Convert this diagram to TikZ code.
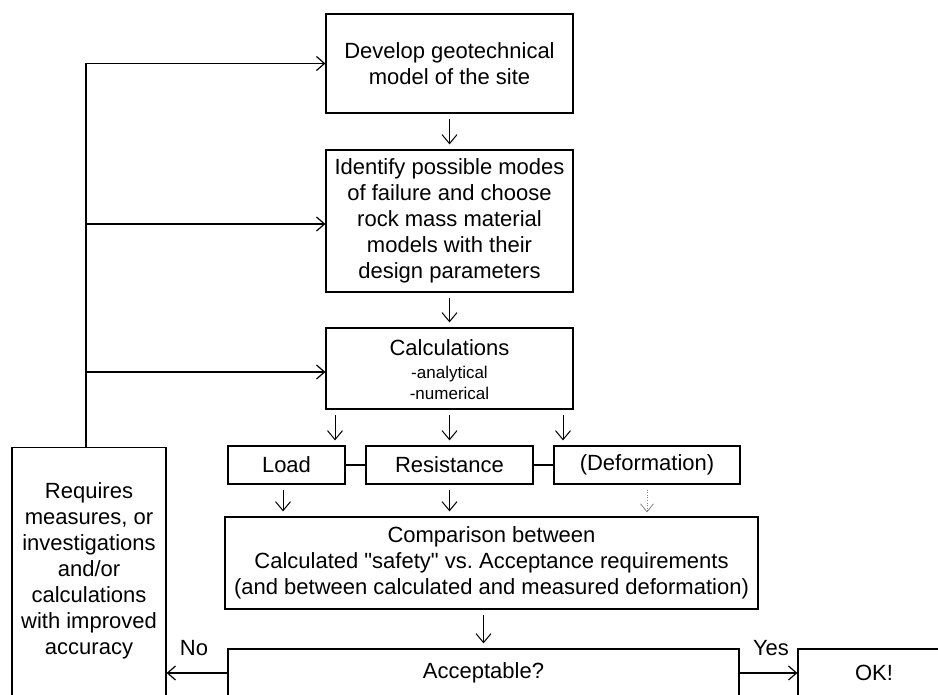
\documentclass[tikz,border=0pt]{standalone}
\usepackage{fontspec}
\setmainfont{Liberation Sans}[Ligatures=TeXOff]
\usetikzlibrary{arrows.meta}
\frenchspacing
\tikzset{
  big/.style={font=\fontsize{22}{26}\selectfont},
  small/.style={font=\fontsize{17}{21}\selectfont},
  box/.style={draw, line width=1.2pt, inner sep=0pt, align=center, big},
  varrow/.style={line width=1pt, -{Straight Barb[length=9pt,width=15pt]}, shorten <=5pt, shorten >=5pt},
  harrow/.style={line width=1.2pt, -{Straight Barb[length=8pt,width=14pt]}},
  darrow/.style={line width=0.6pt, gray, dotted, -{Straight Barb[length=8pt,width=13pt,line width=0.8pt]}, shorten <=5pt, shorten >=4pt},
  link/.style={line width=1.2pt},
  lbl/.style={big, inner sep=0pt}
}
\begin{document}
\begin{tikzpicture}[x=1pt,y=-1pt]
\useasboundingbox (0,0) rectangle (938,695);
\clip (0,0) rectangle (938,695);
% main column
\node[box, minimum width=247, minimum height=99] (dev) at (449.5,63.5) {Develop geotechnical\\model of the site};
\node[box, minimum width=247, minimum height=142] (ident) at (449.5,221) {Identify possible modes\\of failure and choose\\rock mass material\\models with their\\design parameters};
\node[box, minimum width=247, minimum height=81] (calc) at (449.5,368.5) {};
\node[big, inner sep=0pt] (calct) at (449.5,348) {Calculations};
\node[small, inner sep=0pt, align=center] (calcs) at (449.5,383) {-analytical\\-numerical};
% load/resistance/deformation
\node[box, minimum width=117, minimum height=38] (load) at (286.5,465) {Load};
\node[box, minimum width=167, minimum height=38] (res) at (449.5,465) {Resistance};
\node[box, minimum width=186, minimum height=38] (def) at (647,465) {};
\node[big, inner sep=0pt] (deft) at (647,465) {(Deformation)};
\draw[link] (load) -- (res);
\draw[link] (res) -- (def);
% comparison
\node[box, minimum width=533, minimum height=92] (comp) at (491.5,563) {Comparison between\\Calculated "safety" vs. Acceptance requirements\\(and between calculated and measured deformation)};
% acceptable and OK
\node[box, minimum width=511, minimum height=48] (acc) at (483.5,673) {Acceptable?};
\node[box, minimum width=152, minimum height=48] (ok) at (874,673) {OK!};
% requires box
\node[box, minimum width=154, minimum height=300, anchor=north] (req) at (89,447) {};
\node[big, align=center, inner sep=0pt] (reqt) at (89,571) {Requires\\measures, or\\investigations\\and/or\\calculations\\with improved\\accuracy};
% coordinates for arrow columns
\coordinate (c1) at (335,0);
\coordinate (c3) at (563,0);
\coordinate (d1) at (283,0);
\coordinate (fb) at (86,0);
% vertical arrows
\draw[varrow] (dev) -- (ident);
\draw[varrow] (ident) -- (calc);
\draw[varrow] (calc.south -| c1) -- (load.north -| c1);
\draw[varrow] (calc.south) -- (res.north);
\draw[varrow] (calc.south -| c3) -- (def.north -| c3);
\draw[varrow] (load.south -| d1) -- (comp.north -| d1);
\draw[varrow] (res.south) -- (comp.north -| res.south);
\draw[darrow] (def.south) -- (comp.north -| def.south);
\draw[varrow] (comp.south -| acc.north) -- (acc.north);
% feedback loop
\draw[harrow] (req.north -| fb) |- (dev.west);
\draw[harrow] ([yshift=-3pt]fb |- ident.west) -- ([yshift=-3pt]ident.west);
\draw[harrow] ([yshift=-3.5pt]fb |- calc.west) -- ([yshift=-3.5pt]calc.west);
% decision arrows
\draw[harrow] (acc.west) -- (req.east |- acc.west);
\draw[harrow] (acc.east) -- (ok.west);
\node[lbl] (no) at (194,648) {No};
\node[lbl] (yes) at (771,648) {Yes};
\end{tikzpicture}
\end{document}
